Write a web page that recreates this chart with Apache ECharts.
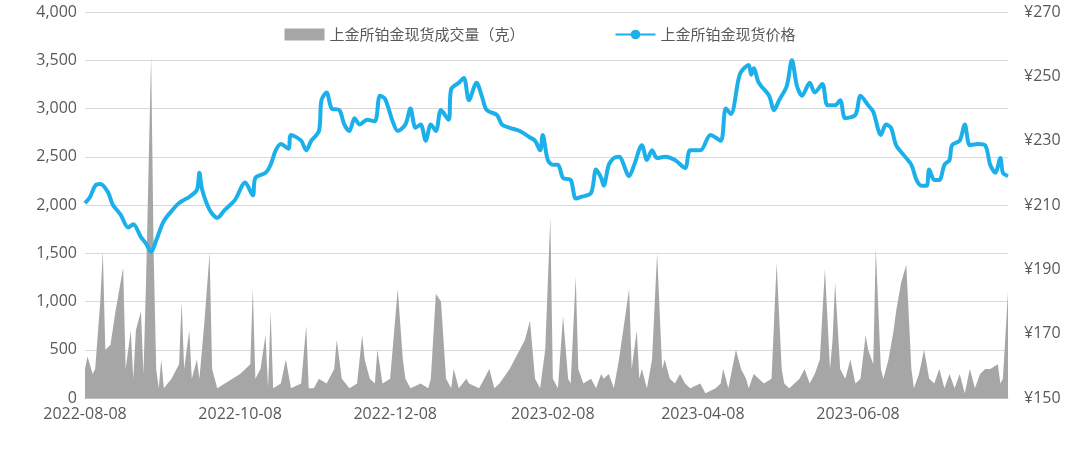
<!DOCTYPE html>
<html><head><meta charset="utf-8">
<script src="https://cdn.jsdelivr.net/npm/echarts@6/dist/echarts.min.js"></script>
<style>html,body{margin:0;padding:0;background:#fff}#c{width:1080px;height:460px}</style>
</head><body><div id="c"></div>
<script>
const tickLabels=['2022-08-08','2022-10-08','2022-12-08','2023-02-08','2023-04-08','2023-06-08'];
const volumeName='上金所铂金现货成交量（克）';
const priceName='上金所铂金现货价格';
const volume=[
['2022-08-08',300],['2022-08-09',430],['2022-08-11',250],['2022-08-12',300],['2022-08-14',1000],['2022-08-15',1520],['2022-08-16',500],['2022-08-18',550],['2022-08-20',900],['2022-08-23',1350],['2022-08-24',300],['2022-08-26',700],['2022-08-27',200],['2022-08-28',700],['2022-08-30',900],['2022-08-31',250],['2022-09-01',1200],['2022-09-03',3550],['2022-09-04',1500],['2022-09-05',300],['2022-09-06',100],['2022-09-07',400],['2022-09-08',100],['2022-09-11',200],['2022-09-14',350],['2022-09-15',1000],['2022-09-16',300],['2022-09-18',700],['2022-09-19',200],['2022-09-21',400],['2022-09-22',200],['2022-09-24',800],['2022-09-26',1500],['2022-09-27',300],['2022-09-29',100],['2022-10-02',150],['2022-10-08',250],['2022-10-12',350],['2022-10-13',1130],['2022-10-14',200],['2022-10-16',300],['2022-10-18',650],['2022-10-19',100],['2022-10-20',900],['2022-10-21',100],['2022-10-24',150],['2022-10-26',400],['2022-10-28',100],['2022-11-01',150],['2022-11-03',750],['2022-11-04',100],['2022-11-06',100],['2022-11-08',200],['2022-11-11',150],['2022-11-14',300],['2022-11-15',600],['2022-11-17',200],['2022-11-20',100],['2022-11-23',150],['2022-11-25',650],['2022-11-26',400],['2022-11-28',200],['2022-11-30',150],['2022-12-01',500],['2022-12-03',150],['2022-12-06',200],['2022-12-09',1130],['2022-12-11',400],['2022-12-12',200],['2022-12-14',100],['2022-12-18',150],['2022-12-21',100],['2022-12-22',200],['2022-12-24',1080],['2022-12-26',1000],['2022-12-28',200],['2022-12-30',100],['2022-12-31',300],['2023-01-02',100],['2023-01-05',200],['2023-01-06',150],['2023-01-10',100],['2023-01-12',200],['2023-01-14',300],['2023-01-16',100],['2023-01-18',150],['2023-01-22',300],['2023-01-28',600],['2023-01-30',800],['2023-02-01',200],['2023-02-03',100],['2023-02-05',500],['2023-02-07',1870],['2023-02-08',200],['2023-02-10',100],['2023-02-12',850],['2023-02-14',200],['2023-02-15',150],['2023-02-17',1260],['2023-02-18',300],['2023-02-20',150],['2023-02-23',200],['2023-02-25',100],['2023-02-27',250],['2023-02-28',200],['2023-03-02',250],['2023-03-04',100],['2023-03-06',400],['2023-03-10',1130],['2023-03-11',300],['2023-03-13',700],['2023-03-14',200],['2023-03-15',300],['2023-03-17',100],['2023-03-19',400],['2023-03-21',1500],['2023-03-23',300],['2023-03-24',400],['2023-03-26',200],['2023-03-28',150],['2023-03-30',250],['2023-04-01',150],['2023-04-03',100],['2023-04-07',150],['2023-04-09',50],['2023-04-13',100],['2023-04-15',150],['2023-04-16',300],['2023-04-18',100],['2023-04-21',500],['2023-04-23',300],['2023-04-25',200],['2023-04-26',100],['2023-04-28',250],['2023-05-02',150],['2023-05-05',200],['2023-05-07',1400],['2023-05-09',300],['2023-05-10',150],['2023-05-12',100],['2023-05-14',150],['2023-05-16',200],['2023-05-18',300],['2023-05-20',150],['2023-05-22',250],['2023-05-24',400],['2023-05-26',1340],['2023-05-28',300],['2023-05-29',600],['2023-05-30',1200],['2023-06-01',300],['2023-06-03',200],['2023-06-05',400],['2023-06-07',150],['2023-06-09',200],['2023-06-11',650],['2023-06-12',500],['2023-06-14',350],['2023-06-15',1550],['2023-06-17',300],['2023-06-18',200],['2023-06-20',400],['2023-06-22',700],['2023-06-23',900],['2023-06-25',1200],['2023-06-27',1380],['2023-06-29',300],['2023-06-30',100],['2023-07-02',250],['2023-07-04',500],['2023-07-06',200],['2023-07-08',150],['2023-07-10',300],['2023-07-12',100],['2023-07-14',250],['2023-07-16',100],['2023-07-18',250],['2023-07-20',50],['2023-07-22',300],['2023-07-24',100],['2023-07-26',250],['2023-07-28',300],['2023-07-30',300],['2023-08-02',350],['2023-08-03',150],['2023-08-04',200],['2023-08-06',1100]];
const price=[
['2022-08-08',210.6],['2022-08-10',212.5],['2022-08-12',216],['2022-08-14',216.5],['2022-08-17',214],['2022-08-19',210],['2022-08-22',207],['2022-08-25',203],['2022-08-27',204],['2022-08-30',200],['2022-09-01',198],['2022-09-03',195.4],['2022-09-05',199],['2022-09-08',205],['2022-09-12',209],['2022-09-14',210.6],['2022-09-16',211.6],['2022-09-18',212.5],['2022-09-21',214.7],['2022-09-22',220],['2022-09-23',215],['2022-09-26',208.5],['2022-09-29',206],['2022-10-02',208.5],['2022-10-06',211.6],['2022-10-10',217],['2022-10-13',213],['2022-10-14',218.4],['2022-10-18',220],['2022-10-20',222.5],['2022-10-22',227],['2022-10-24',229],['2022-10-27',227.5],['2022-10-28',231.8],['2022-11-01',230],['2022-11-03',227],['2022-11-05',230],['2022-11-08',233],['2022-11-09',242.6],['2022-11-11',245],['2022-11-13',240],['2022-11-16',239.5],['2022-11-18',235],['2022-11-20',233],['2022-11-22',237],['2022-11-24',235],['2022-11-27',236.5],['2022-11-30',236],['2022-12-02',244],['2022-12-04',243],['2022-12-07',236],['2022-12-09',233],['2022-12-12',235],['2022-12-14',240],['2022-12-16',234],['2022-12-18',235],['2022-12-20',230],['2022-12-22',235],['2022-12-24',233],['2022-12-26',239.5],['2022-12-29',236.5],['2022-12-30',246],['2023-01-02',248],['2023-01-04',249.5],['2023-01-06',242.6],['2023-01-09',248],['2023-01-11',244],['2023-01-13',239.5],['2023-01-17',238],['2023-01-19',235],['2023-01-22',234],['2023-01-26',233],['2023-01-30',231],['2023-02-01',230],['2023-02-03',227],['2023-02-04',231.8],['2023-02-06',224],['2023-02-08',222.5],['2023-02-10',222.5],['2023-02-12',218.4],['2023-02-15',217.8],['2023-02-17',212],['2023-02-19',212.5],['2023-02-23',213.7],['2023-02-25',221],['2023-02-27',218.4],['2023-02-28',216],['2023-03-02',222.5],['2023-03-04',224.6],['2023-03-06',225],['2023-03-10',219],['2023-03-12',222.5],['2023-03-15',228.6],['2023-03-17',224],['2023-03-19',227],['2023-03-21',224.6],['2023-03-24',225],['2023-03-28',224],['2023-04-01',221.5],['2023-04-03',227],['2023-04-07',227],['2023-04-11',231.8],['2023-04-15',230],['2023-04-17',240],['2023-04-19',238.3],['2023-04-22',249],['2023-04-23',251.4],['2023-04-26',253.5],['2023-04-27',250.5],['2023-04-28',252.5],['2023-04-30',248],['2023-05-04',244],['2023-05-06',239.5],['2023-05-08',242.6],['2023-05-11',247],['2023-05-13',255],['2023-05-15',247],['2023-05-17',244],['2023-05-20',248],['2023-05-22',245],['2023-05-25',247.6],['2023-05-27',241],['2023-05-30',241],['2023-06-01',242.6],['2023-06-03',237],['2023-06-07',238],['2023-06-09',244],['2023-06-12',241],['2023-06-14',239],['2023-06-17',231.8],['2023-06-19',235],['2023-06-21',234],['2023-06-23',228.6],['2023-06-26',225.5],['2023-06-29',222.5],['2023-07-01',217.8],['2023-07-03',216],['2023-07-05',216],['2023-07-06',221],['2023-07-08',217.8],['2023-07-10',217.8],['2023-07-12',222.5],['2023-07-14',224],['2023-07-15',228.6],['2023-07-18',230],['2023-07-20',235],['2023-07-22',228.6],['2023-07-25',229],['2023-07-28',228.6],['2023-07-30',222.5],['2023-08-01',220],['2023-08-03',224.6],['2023-08-04',220],['2023-08-06',219]];
const ts=d=>Date.UTC(+d.slice(0,4),+d.slice(5,7)-1,+d.slice(8,10));
const fmt=v=>{const d=new Date(v);const p=n=>String(n).padStart(2,'0');return d.getUTCFullYear()+'-'+p(d.getUTCMonth()+1)+'-'+p(d.getUTCDate());};
const lab={color:'#595959',fontSize:16,fontFamily:'Open Sans, sans-serif'};
const chart=echarts.init(document.getElementById('c'));
chart.setOption({
  animation:false,
  grid:{left:85,right:72,top:12,bottom:62},
  legend:{top:22,left:'center',itemGap:90,itemWidth:40,itemHeight:12,
    textStyle:{color:'#595959',fontSize:15,fontFamily:'Noto Sans CJK SC'},
    data:[{name:volumeName,icon:'rect'},{name:priceName}]},
  xAxis:{type:'value',min:ts('2022-08-08'),max:ts('2023-08-06'),
    axisLine:{lineStyle:{color:'#bfbfbf'}},axisTick:{show:false},splitLine:{show:false},
    axisLabel:Object.assign({},lab,{customValues:tickLabels.map(ts),formatter:v=>fmt(v),hideOverlap:false})},
  yAxis:[
    {type:'value',min:0,max:4000,interval:500,axisLine:{show:false},axisTick:{show:false},
      splitLine:{lineStyle:{color:'#d9d9d9'}},axisLabel:Object.assign({},lab,{formatter:v=>v.toLocaleString('en-US')})},
    {type:'value',min:150,max:270,interval:20,axisLine:{show:false},axisTick:{show:false},splitLine:{show:false},
      axisLabel:Object.assign({},lab,{formatter:v=>'¥'+v,margin:16})}
  ],
  series:[
    {name:volumeName,type:'line',data:volume.map(p=>[ts(p[0]),p[1]]),symbol:'none',lineStyle:{width:0},itemStyle:{color:'#a6a6a6'},areaStyle:{color:'#a6a6a6',opacity:1}},
    {name:priceName,type:'line',yAxisIndex:1,data:price.map(p=>[ts(p[0]),p[1]]),symbol:'none',smooth:0.3,lineStyle:{width:4,color:'#1cb0eb'},itemStyle:{color:'#1cb0eb'}}
  ]
});
</script></body></html>
